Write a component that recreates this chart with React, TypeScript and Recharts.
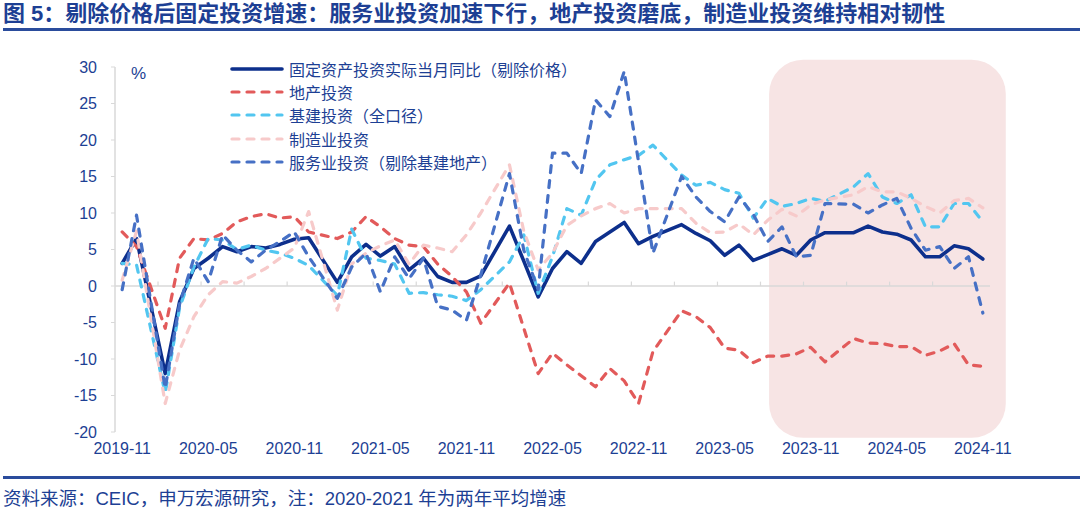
import React from "react";
import {
  LineChart,
  Line,
  XAxis,
  YAxis,
  ReferenceLine,
  ReferenceArea,
} from "recharts";

// monthly, 2019-11 .. 2024-11 (January is folded into Jan-Feb, so null)
const months = [
  "2019-11", "2019-12",
  "2020-01", "2020-02", "2020-03", "2020-04", "2020-05", "2020-06",
  "2020-07", "2020-08", "2020-09", "2020-10", "2020-11", "2020-12",
  "2021-01", "2021-02", "2021-03", "2021-04", "2021-05", "2021-06",
  "2021-07", "2021-08", "2021-09", "2021-10", "2021-11", "2021-12",
  "2022-01", "2022-02", "2022-03", "2022-04", "2022-05", "2022-06",
  "2022-07", "2022-08", "2022-09", "2022-10", "2022-11", "2022-12",
  "2023-01", "2023-02", "2023-03", "2023-04", "2023-05", "2023-06",
  "2023-07", "2023-08", "2023-09", "2023-10", "2023-11", "2023-12",
  "2024-01", "2024-02", "2024-03", "2024-04", "2024-05", "2024-06",
  "2024-07", "2024-08", "2024-09", "2024-10", "2024-11",
];

const totalReal = [
  3.1, 6.5, null, -12.0, -2.2, 2.4, 3.8, 5.4, 4.7, 5.4, 5.2, 5.7, 6.4, 6.6,
  null, 0.5, 4.0, 5.7, 4.1, 5.4, 2.2, 3.8, 1.3, 0.5, 0.5, 1.4,
  null, 8.2, 3.4, -1.5, 2.4, 4.7, 3.1, 6.1, 7.4, 8.7, 5.8, 6.8,
  null, 8.4, 7.2, 6.2, 4.2, 5.6, 3.5, 4.3, 5.1, 4.2, 6.3, 7.3,
  null, 7.3, 8.2, 7.4, 7.1, 6.3, 4.0, 4.0, 5.5, 5.1, 3.7,
];

const realEstate = [
  7.4, 5.4, null, -5.8, 3.8, 6.5, 6.3, 7.2, 8.8, 9.5, 9.9, 9.3, 9.5, 7.4,
  null, 6.5, 7.4, 9.5, 8.1, 6.5, 5.6, 5.4, 3.0, 1.3, -0.8, -5.1,
  null, 0.4, -5.8, -12.0, -9.2, -10.8, -12.3, -13.8, -11.3, -13.0, -16.1, -9.0,
  null, -3.4, -4.2, -5.7, -8.5, -8.8, -10.5, -9.6, -9.6, -9.3, -8.4, -10.4,
  null, -7.2, -7.8, -7.9, -8.3, -8.3, -9.5, -8.9, -7.9, -10.8, -11.0,
];

const infra = [
  3.1, 2.9, null, -14.7, -3.0, 2.6, 6.5, 6.3, 5.0, 5.6, 4.9, 4.5, 3.8, 2.8,
  null, -1.3, 7.8, 3.8, 3.5, 3.0, -1.0, -0.9, -1.2, -1.4, -2.0, -0.5,
  null, 3.3, 7.0, -1.0, 4.0, 10.6, 9.7, 14.5, 16.6, 17.3, 17.9, 19.3,
  null, 15.2, 13.8, 14.2, 13.2, 12.7, 9.3, 12.0, 10.9, 11.3, 12.0, 11.6,
  null, 13.6, 15.4, 12.2, 11.3, 12.5, 8.1, 8.1, 11.3, 11.3, 8.8,
];

const manufacturing = [
  0.8, 7.5, null, -16.1, -8.8, -4.2, -1.2, 0.6, 0.4, 1.3, 2.4, 3.8, 5.2, 10.2,
  null, -3.3, 3.0, 4.5, 5.5, 6.3, 3.0, 5.6, 5.2, 4.7, 7.0, 10.0,
  null, 16.6, 7.5, 2.2, 4.5, 8.3, 9.6, 10.6, 11.3, 10.0, 10.6, 10.6,
  null, 10.6, 8.6, 7.3, 7.4, 8.5, 7.0, 9.0, 10.5, 9.6, 11.1, 11.8,
  null, 12.5, 13.6, 12.9, 12.9, 12.0, 10.9, 10.0, 11.7, 12.0, 10.7,
];

const services = [
  -0.5, 9.7, null, -14.0, -2.5, 3.8, 0.6, 7.0, 4.9, 3.3, 4.9, 6.1, 7.4, 4.0,
  null, -1.7, 2.6, 4.5, -0.8, 4.0, 1.0, 3.8, -2.8, -3.3, -4.7, 1.5,
  null, 15.4, 4.9, -0.5, 18.2, 18.2, 15.4, 25.5, 23.2, 29.4, 17.0, 4.5,
  null, 15.0, 12.2, 10.2, 8.8, 12.2, 9.8, 6.1, 8.1, 4.0, 4.2, 11.3,
  null, 11.2, 10.0, 11.1, 12.0, 7.9, 4.9, 5.4, 2.4, 4.0, -3.7,
];

const xLabelIdx = [0, 6, 12, 18, 24, 30, 36, 42, 48, 54, 60];
const yTicks = [-20, -15, -10, -5, 0, 5, 10, 15, 20, 25, 30];
// small tick marks on the zero line, every 3 months at category boundaries
const zeroTicks = [2.5, 5.5, 8.5, 11.5, 14.5, 17.5, 20.5, 23.5, 26.5, 29.5, 32.5, 35.5, 38.5, 41.5, 44.5, 47.5, 50.5, 53.5, 56.5, 59.5];
// highlighted recent period
const shadeX = [45.1, 61.6];
const shadeY = [-20.8, 31.0];

const TEXT = "#1d3f94";
const FONT = '"Liberation Sans", "Noto Sans CJK SC", sans-serif';

const series = [
  { key: "totalReal", name: "固定资产投资实际当月同比（剔除价格）", color: "#0d2f8c", width: 3.6, dash: undefined },
  { key: "realEstate", name: "地产投资", color: "#e25a5a", width: 3.2, dash: "7 8" },
  { key: "infra", name: "基建投资（全口径）", color: "#52c6f0", width: 3.2, dash: "7 8" },
  { key: "manufacturing", name: "制造业投资", color: "#f7caca", width: 3.2, dash: "7 8" },
  { key: "services", name: "服务业投资（剔除基建地产）", color: "#4670c5", width: 3.2, dash: "7 8" },
];

const data = months.map((m, i) => ({
  idx: i,
  month: m,
  totalReal: totalReal[i],
  realEstate: realEstate[i],
  infra: infra[i],
  manufacturing: manufacturing[i],
  services: services[i],
}));

const LegendBox = () => (
  <div style={{ position: "absolute", left: 229, top: 57 }}>
    {series.map((s) => (
      <div key={s.key} style={{ display: "flex", alignItems: "center", height: 23.4 }}>
        <svg width={56} height={10} style={{ marginRight: 4 }}>
          <line
            x1={3}
            y1={5}
            x2={53}
            y2={5}
            stroke={s.color}
            strokeWidth={s.width}
            strokeDasharray={s.dash}
            strokeLinecap="round"
          />
        </svg>
        <span style={{ fontSize: 16, color: TEXT, whiteSpace: "nowrap" }}>{s.name}</span>
      </div>
    ))}
  </div>
);

export default function App() {
  return (
    <div
      style={{
        position: "absolute",
        left: 0,
        top: 0,
        width: 1080,
        height: 511,
        background: "#fff",
        fontFamily: FONT,
        overflow: "hidden",
      }}
    >
      <div
        style={{
          position: "absolute",
          left: 3,
          top: 1,
          fontSize: 22,
          lineHeight: "25px",
          fontWeight: 700,
          color: TEXT,
          whiteSpace: "nowrap",
        }}
      >
        图 5：剔除价格后固定投资增速：服务业投资加速下行，地产投资磨底，制造业投资维持相对韧性
      </div>
      <div style={{ position: "absolute", left: 3, right: 0, top: 28, height: 3, background: "#2a4c9c" }} />

      <div style={{ position: "absolute", left: 0, top: 0 }}>
        <LineChart
          width={1080}
          height={470}
          data={data}
          margin={{ top: 67, right: 90, bottom: 8, left: 0 }}
        >
          <ReferenceArea
            x1={shadeX[0]}
            x2={shadeX[1]}
            y1={shadeY[0]}
            y2={shadeY[1]}
            fill="#f7e4e4"
            fillOpacity={1}
            stroke="none"
            radius={34}
            ifOverflow="visible"
          />
          <XAxis
            dataKey="idx"
            type="number"
            domain={[-0.5, 60.5]}
            allowDataOverflow
            ticks={xLabelIdx}
            interval={0}
            tickFormatter={(v: number) => months[v]}
            axisLine={false}
            tickLine={false}
            tickSize={0}
            tickMargin={11}
            height={30}
            tick={{ fill: TEXT, fontSize: 16, fontFamily: FONT }}
          />
          <YAxis
            type="number"
            domain={[-20, 30]}
            ticks={yTicks}
            interval={0}
            width={115}
            axisLine={{ stroke: "#d9d9d9", strokeWidth: 1.5 }}
            tickLine={{ stroke: "#d9d9d9" }}
            tickSize={4}
            tickMargin={14}
            tick={{ fill: TEXT, fontSize: 16, fontFamily: FONT }}
          />
          <ReferenceLine y={0} stroke="#d9d9d9" strokeWidth={1.5} />
          {zeroTicks.map((t) => (
            <ReferenceLine
              key={t}
              segment={[
                { x: t, y: 0 },
                { x: t, y: 0.6 },
              ]}
              stroke="#d9d9d9"
              strokeWidth={1.2}
            />
          ))}
          {series.map((s) => (
            <Line
              key={s.key}
              type="linear"
              dataKey={s.key}
              name={s.name}
              stroke={s.color}
              strokeWidth={s.width}
              strokeDasharray={s.dash}
              strokeLinecap="round"
              strokeLinejoin="round"
              dot={false}
              activeDot={false}
              connectNulls
              isAnimationActive={false}
            />
          ))}
        </LineChart>
      </div>

      <div style={{ position: "absolute", left: 131, top: 64, fontSize: 17, color: TEXT }}>%</div>
      <LegendBox />

      <div style={{ position: "absolute", left: 3, right: 0, top: 476, height: 3, background: "#2a4c9c" }} />
      <div
        style={{
          position: "absolute",
          left: 3,
          top: 488,
          fontSize: 18.5,
          lineHeight: "22px",
          color: TEXT,
          whiteSpace: "nowrap",
        }}
      >
        资料来源：CEIC，申万宏源研究，注：2020-2021 年为两年平均增速
      </div>
    </div>
  );
}
